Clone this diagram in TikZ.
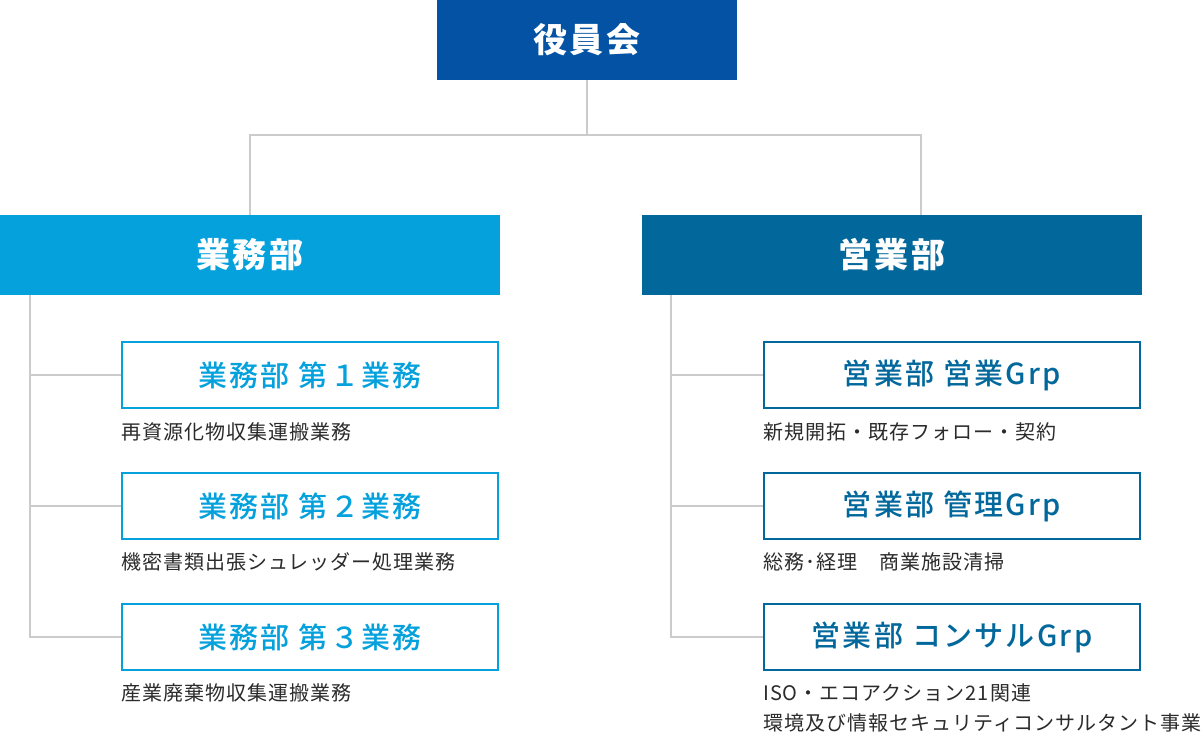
\documentclass[tikz,border=0pt]{standalone}
\usepackage{fontspec}
\setmainfont{Noto Sans CJK JP}
\newfontfamily\jpmed{Noto Sans CJK JP Medium}
\definecolor{boardblue}{HTML}{0352A3}
\definecolor{gyomublue}{HTML}{04A1DC}
\definecolor{eigyoblue}{HTML}{02689C}
\definecolor{linegray}{HTML}{CBCBCB}
\definecolor{captext}{HTML}{2B2B2B}
\tikzset{
  headbox/.style={minimum width=500pt, minimum height=80pt, inner sep=0pt, text=white,
    font=\fontsize{34}{40}\selectfont\bfseries\addfontfeature{LetterSpace=8}},
  subbox/.style={draw, line width=2pt, minimum width=376pt, minimum height=66pt, inner sep=0pt,
    fill=white, font=\jpmed\fontsize{29}{34}\selectfont\addfontfeature{LetterSpace=8}},
  caption/.style={anchor=west, inner sep=0pt, text=captext, font=\fontsize{20}{30}\selectfont\addfontfeature{LetterSpace=5}, align=left},
  conn/.style={draw=linegray, line width=2pt}
}
\begin{document}
\begin{tikzpicture}[x=1pt,y=-1pt]
\useasboundingbox (0,0) rectangle (1202,733);
\fill[white] (0,0) rectangle (1202,733);
% top
\node[headbox, fill=boardblue, minimum width=300pt] (board) at (587,40) {役員会};
\node[headbox, fill=gyomublue] (gyomu) at (250,255) {業務部};
\node[headbox, fill=eigyoblue] (eigyo) at (892,255) {営業部};
\coordinate (split) at (587,135);
\draw[conn] (board.south) -- (split);
\draw[conn] (split) -| (gyomu.north);
\draw[conn] (split) -| (921,215);
% left sub boxes
\node[subbox, draw=gyomublue, text=gyomublue] (g1) at (310,375) {業務部 第１業務};
\node[subbox, draw=gyomublue, text=gyomublue] (g2) at (310,506) {業務部 第２業務};
\node[subbox, draw=gyomublue, text=gyomublue] (g3) at (310,637) {業務部 第３業務};
\coordinate (ltop) at (30,295);
\draw[conn] (ltop) |- (g3.west);
\draw[conn] (ltop |- g1.west) -- (g1.west);
\draw[conn] (ltop |- g2.west) -- (g2.west);
\node[caption] (c1) at (121,432) {再資源化物収集運搬業務};
\node[caption] (c2) at (121,562) {機密書類出張シュレッダー処理業務};
\node[caption] (c3) at (121,693) {産業廃棄物収集運搬業務};
% right sub boxes
\node[subbox, draw=eigyoblue, text=eigyoblue] (e1) at (952,375) {営業部 営業Grp};
\node[subbox, draw=eigyoblue, text=eigyoblue] (e2) at (952,506) {営業部 管理Grp};
\node[subbox, draw=eigyoblue, text=eigyoblue] (e3) at (952,637) {営業部 コンサルGrp};
\coordinate (rtop) at (671,295);
\draw[conn] (rtop) |- (e3.west);
\draw[conn] (rtop |- e1.west) -- (e1.west);
\draw[conn] (rtop |- e2.west) -- (e2.west);
\node[caption] (d1) at (763,432) {新規開拓・既存フォロー・契約};
\node[caption] (d2) at (763,562) {総務･経理　商業施設清掃};
\node[caption] (d3) at (763,693) {ISO・エコアクション21関連};
\node[caption] (d4) at (763,723) {環境及び情報セキュリティコンサルタント事業};
\end{tikzpicture}
\end{document}
